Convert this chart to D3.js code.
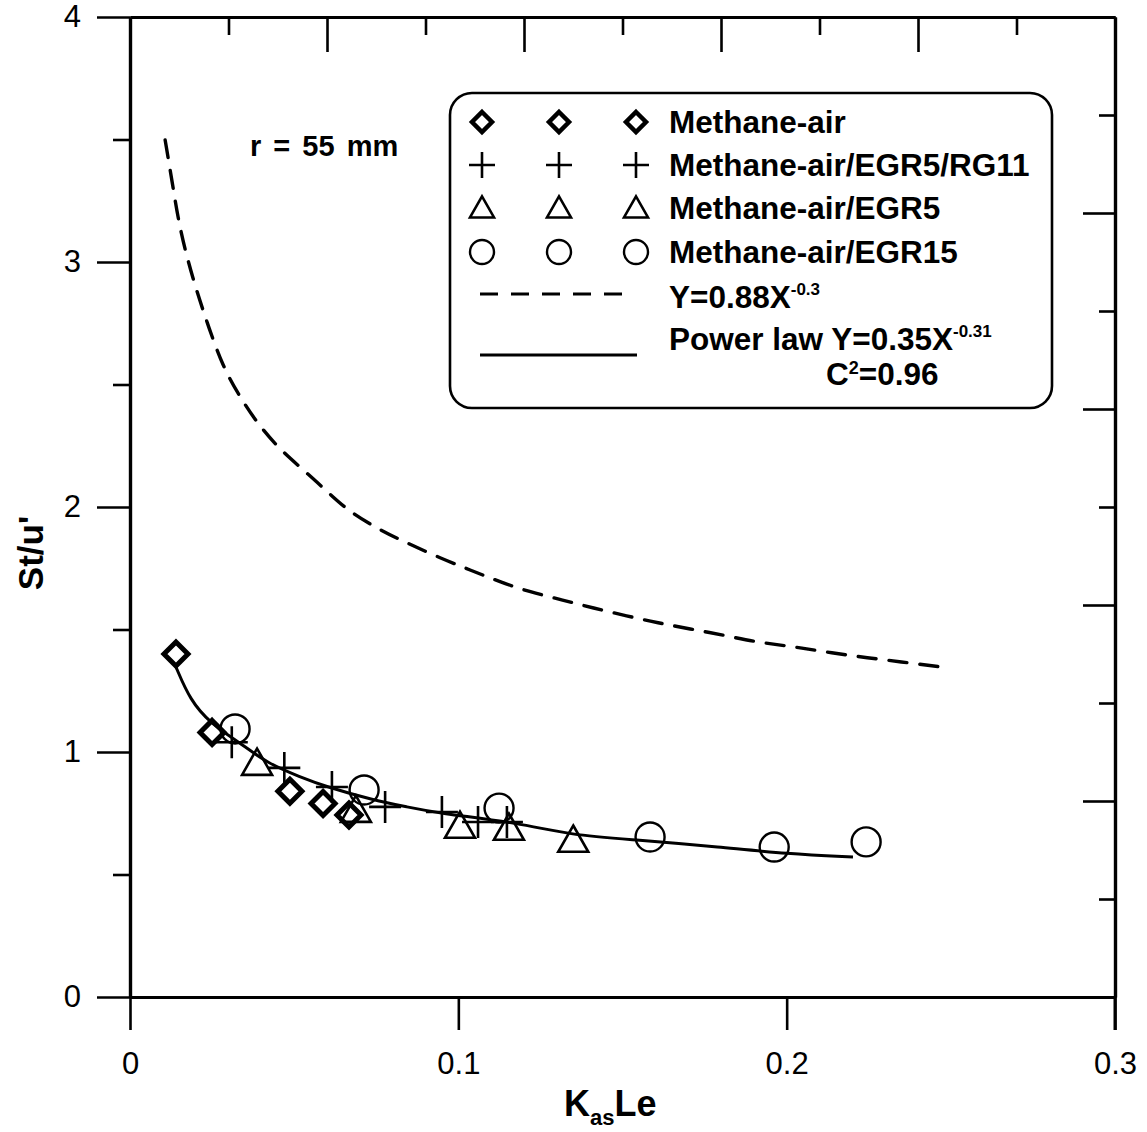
<!DOCTYPE html>
<html>
<head>
<meta charset="utf-8">
<script src="https://cdn.jsdelivr.net/npm/d3@7"></script>
<style>
  body { margin: 0; background: #fff; }
  text { font-family: "Liberation Sans", Arial, sans-serif; fill: #000; }
</style>
</head>
<body>
<div id="chart"></div>
<script>
// axis ticks
const xTicks = [0, 0.1, 0.2, 0.3];
const yTicks = [0, 1, 2, 3, 4];
const yMinorTicks = [0.5, 1.5, 2.5, 3.5];
const topLongTicks = [0.06, 0.12, 0.18, 0.24];
const topShortTicks = [0.03, 0.09, 0.15, 0.21, 0.27];
const rightLongTicks = [0.8, 1.6, 2.4, 3.2];
const rightShortTicks = [0.4, 1.2, 2.0, 2.8, 3.6];

// measured points (x = KasLe, y = St/u')
const methaneAir = [[0.014, 1.40], [0.025, 1.08], [0.0487, 0.84], [0.0588, 0.79], [0.0667, 0.743]];
const egr5rg11 = [[0.031, 1.04], [0.047, 0.935], [0.0615, 0.857], [0.0777, 0.776], [0.095, 0.755], [0.106, 0.714], [0.1148, 0.714]];
const egr5 = [[0.0387, 0.955], [0.0688, 0.763], [0.1005, 0.698], [0.1154, 0.69], [0.135, 0.641]];
const egr15 = [[0.032, 1.094], [0.0713, 0.845], [0.1124, 0.771], [0.1584, 0.653], [0.1962, 0.612], [0.2242, 0.633]];

// dashed curve Y=0.88X^-0.3
const dashedCurve = [[0.0107, 3.498], [0.0131, 3.306], [0.0152, 3.131], [0.0192, 2.927], [0.0235, 2.751],
  [0.0283, 2.571], [0.0335, 2.449], [0.0387, 2.343], [0.0457, 2.233], [0.0539, 2.139], [0.0618, 2.041],
  [0.067, 1.98], [0.0761, 1.906], [0.0844, 1.853], [0.0944, 1.792], [0.1036, 1.743], [0.1127, 1.694],
  [0.1218, 1.653], [0.1319, 1.62], [0.141, 1.588], [0.1514, 1.555], [0.1608, 1.527], [0.1706, 1.502],
  [0.1806, 1.478], [0.1904, 1.449], [0.2004, 1.433], [0.2102, 1.412], [0.2202, 1.392], [0.2299, 1.376],
  [0.24, 1.359], [0.2497, 1.343]];

// solid power-law fit
const fitCurve = [[0.014, 1.347], [0.0183, 1.212], [0.0244, 1.118], [0.0335, 1.037], [0.0417, 0.955],
  [0.0518, 0.898], [0.06, 0.857], [0.074, 0.804], [0.0844, 0.776], [0.0935, 0.751], [0.1188, 0.71],
  [0.134, 0.661], [0.1544, 0.641], [0.1797, 0.612], [0.2001, 0.584], [0.2202, 0.571]];

const seriesNames = ["Methane-air", "Methane-air/EGR5/RG11", "Methane-air/EGR5", "Methane-air/EGR15"];
const seriesShapes = ["diamond", "plus", "triangle", "circle"];

const W = 1147, H = 1132;
const svg = d3.select("#chart").append("svg")
  .attr("width", W).attr("height", H);

const x = d3.scaleLinear().domain([0, 0.3]).range([130, 1115]);
const y = d3.scaleLinear().domain([0, 4]).range([997, 17]);

// marker path builder
function shapePath(shape, s) {
  if (shape === "diamond") return `M0,${-s}L${s},0L0,${s}L${-s},0Z`;
  if (shape === "plus") return `M${-s},0H${s}M0,${-s}V${s}`;
  const h = s * 1.75;
  return `M0,${-h * 0.55}L${s},${h * 0.45}L${-s},${h * 0.45}Z`;
}

function drawMarker(g, shape, cx, cy, big) {
  if (shape === "circle") {
    g.append("circle").attr("cx", cx).attr("cy", cy).attr("r", big ? 14.5 : 12)
      .attr("fill", "none").attr("stroke", "#000").attr("stroke-width", 2.4);
    return;
  }
  const size = shape === "diamond" ? (big ? 12 : 10) : shape === "plus" ? (big ? 16 : 13) : (big ? 15 : 12);
  const sw = shape === "diamond" ? (big ? 5 : 4.5) : 2.6;
  g.append("path")
    .attr("transform", `translate(${cx},${cy})`)
    .attr("d", shapePath(shape, size))
    .attr("fill", "none").attr("stroke", "#000").attr("stroke-width", sw);
}

// axes
function styleAxis(g) {
  g.select(".domain").attr("stroke-width", 3.2);
  g.selectAll(".tick line").attr("stroke-width", 2.6);
  g.selectAll(".tick text").style("font-size", "31px");
}

svg.append("g").attr("transform", "translate(0,997)")
  .call(d3.axisBottom(x).tickValues(xTicks).tickSize(33).tickSizeOuter(0).tickPadding(22)
    .tickFormat(d => d === 0 ? "0" : d3.format(".1f")(d)))
  .call(styleAxis);

svg.append("g").attr("transform", "translate(130,0)")
  .call(d3.axisLeft(y).tickValues(yTicks).tickSize(33).tickSizeOuter(0).tickPadding(16)
    .tickFormat(d3.format("d")))
  .call(styleAxis);
svg.append("g").attr("transform", "translate(130,0)")
  .call(d3.axisLeft(y).tickValues(yMinorTicks).tickSize(17).tickSizeOuter(0).tickFormat(""))
  .call(styleAxis);

svg.append("g").attr("transform", "translate(0,17)")
  .call(d3.axisTop(x).tickValues(topLongTicks).tickSize(-35).tickSizeOuter(0).tickFormat(""))
  .call(styleAxis);
svg.append("g").attr("transform", "translate(0,17)")
  .call(d3.axisTop(x).tickValues(topShortTicks).tickSize(-18).tickSizeOuter(0).tickFormat(""))
  .call(styleAxis);

svg.append("g").attr("transform", "translate(1115,0)")
  .call(d3.axisRight(y).tickValues(rightLongTicks).tickSize(-32).tickSizeOuter(0).tickFormat(""))
  .call(styleAxis);
svg.append("g").attr("transform", "translate(1115,0)")
  .call(d3.axisRight(y).tickValues(rightShortTicks).tickSize(-16).tickSizeOuter(0).tickFormat(""))
  .call(styleAxis);
// right axis runs a little below the frame
svg.append("line").attr("x1", 1115).attr("x2", 1115).attr("y1", 997).attr("y2", 1030)
  .attr("stroke", "#000").attr("stroke-width", 3);

// axis titles
svg.append("text")
  .attr("transform", "translate(43,553) rotate(-90)")
  .attr("text-anchor", "middle")
  .style("font-size", "35px").style("font-weight", "bold")
  .text("St/u'");

const xt = svg.append("text").attr("x", 564).attr("y", 1116)
  .style("font-size", "36px").style("font-weight", "bold");
xt.append("tspan").text("K");
xt.append("tspan").attr("dy", 9).style("font-size", "22px").text("as");
xt.append("tspan").attr("dy", -9).text("Le");

// annotation
svg.append("text").attr("x", 250).attr("y", 156)
  .style("font-size", "29px").style("font-weight", "bold").style("word-spacing", "4px")
  .text("r = 55 mm");

// curves
const line = d3.line().x(d => x(d[0])).y(d => y(d[1])).curve(d3.curveBasis);

svg.append("path").datum(dashedCurve)
  .attr("d", line).attr("fill", "none").attr("stroke", "#000")
  .attr("stroke-width", 3.4).attr("stroke-dasharray", "18,13").attr("stroke-linecap", "round");

svg.append("path").datum(fitCurve)
  .attr("d", line).attr("fill", "none").attr("stroke", "#000").attr("stroke-width", 3);

// data markers
const allSeries = [methaneAir, egr5rg11, egr5, egr15];
const mg = svg.append("g");
allSeries.forEach((pts, i) => {
  pts.forEach(p => drawMarker(mg, seriesShapes[i], x(p[0]), y(p[1]), true));
});

// legend
const lg = svg.append("g");
lg.append("rect").attr("x", 450).attr("y", 93).attr("width", 602).attr("height", 315)
  .attr("rx", 22).attr("ry", 22)
  .attr("fill", "#fff").attr("stroke", "#000").attr("stroke-width", 2.6);

const rowY = [122, 165, 208, 252];
const symX = [482, 559, 636];
seriesNames.forEach((name, i) => {
  symX.forEach(sx => drawMarker(lg, seriesShapes[i], sx, rowY[i], false));
  lg.append("text").attr("x", 669).attr("y", rowY[i] + 11)
    .style("font-size", "31.5px").style("font-weight", "bold").text(name);
});

lg.append("line").attr("x1", 480).attr("x2", 626).attr("y1", 294).attr("y2", 294)
  .attr("stroke", "#000").attr("stroke-width", 3).attr("stroke-dasharray", "18,13");
const t1 = lg.append("text").attr("x", 669).attr("y", 308)
  .style("font-size", "31.5px").style("font-weight", "bold");
t1.append("tspan").text("Y=0.88X");
t1.append("tspan").attr("dy", -13).style("font-size", "17px").text("-0.3");

lg.append("line").attr("x1", 480).attr("x2", 637).attr("y1", 355).attr("y2", 355)
  .attr("stroke", "#000").attr("stroke-width", 3);
const t2 = lg.append("text").attr("x", 669).attr("y", 350)
  .style("font-size", "31.5px").style("font-weight", "bold");
t2.append("tspan").text("Power law Y=0.35X");
t2.append("tspan").attr("dy", -13).style("font-size", "17px").text("-0.31");
const t3 = lg.append("text").attr("x", 826).attr("y", 385)
  .style("font-size", "31.5px").style("font-weight", "bold");
t3.append("tspan").text("C");
t3.append("tspan").attr("dy", -11).style("font-size", "18px").text("2");
t3.append("tspan").attr("dy", 11).text("=0.96");
</script>
</body>
</html>
